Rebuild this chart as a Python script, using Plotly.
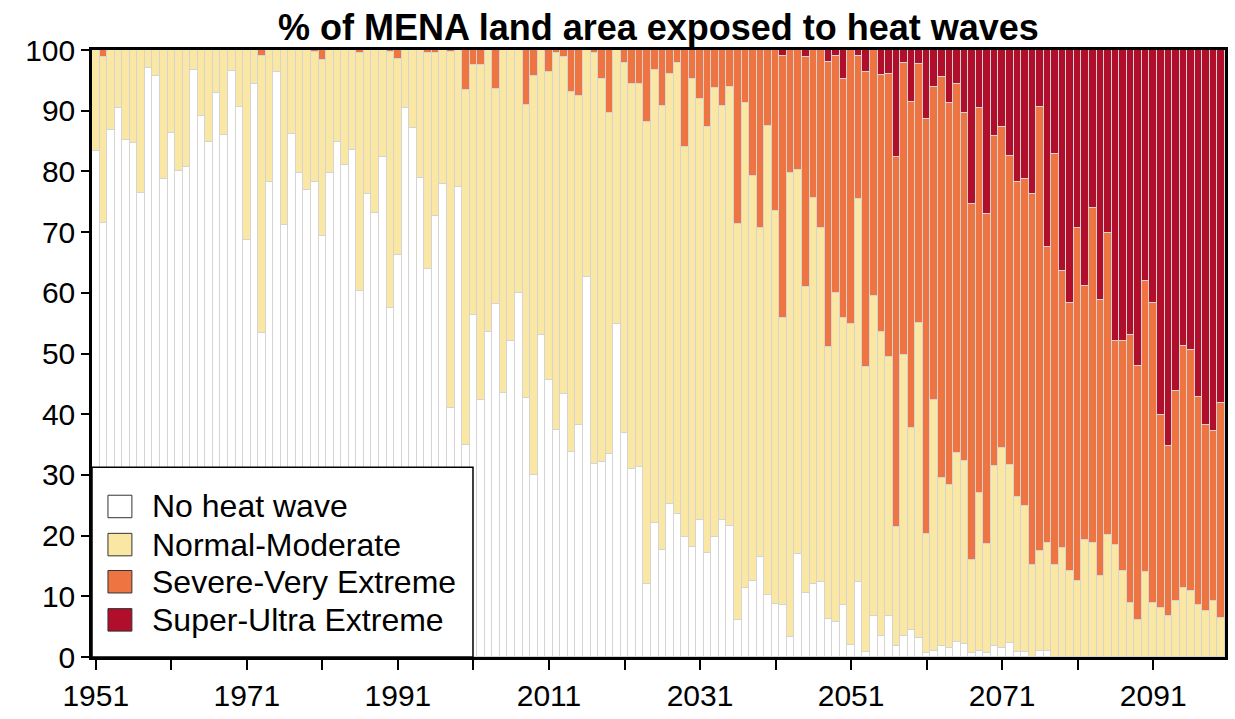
import plotly.graph_objects as go

# Years covered by the record and projections
years = list(range(1951, 2101))

# Share of land area (%) in each heat-wave class, per year
no_heat_wave = [
    83.4, 71.5, 86.9, 90.5, 85.2, 84.7, 76.5, 97.0, 95.7, 78.7,
    86.4, 80.0, 80.7, 96.7, 89.2, 84.8, 92.9, 86.0, 96.6, 90.6,
    68.7, 94.4, 53.4, 78.3, 96.3, 71.1, 86.1, 79.8, 77.0, 78.2,
    69.4, 79.7, 84.9, 81.1, 83.5, 60.3, 76.3, 73.1, 82.3, 57.5,
    66.2, 90.5, 87.1, 78.9, 63.9, 72.7, 78.0, 41.1, 77.4, 34.9,
    56.4, 42.4, 53.6, 58.2, 43.5, 52.0, 60.0, 42.6, 30.0, 53.1,
    45.6, 37.4, 43.4, 33.8, 38.2, 62.6, 31.8, 32.1, 33.4, 54.9,
    36.9, 31.0, 31.3, 12.1, 22.1, 17.7, 25.2, 23.6, 19.7, 18.2,
    22.6, 17.2, 19.8, 22.6, 21.6, 6.1, 11.3, 12.5, 16.5, 10.2,
    8.7, 8.5, 3.3, 17.0, 10.6, 12.1, 12.3, 6.2, 5.8, 8.5,
    2.0, 12.3, 0.8, 6.7, 3.5, 6.7, 1.8, 3.5, 4.5, 3.1,
    0.7, 1.0, 1.8, 1.5, 2.5, 2.2, 0.7, 1.0, 0.7, 1.8,
    1.5, 2.3, 0.9, 0.9, 0.0, 1.0, 1.0, 0.0, 0.0, 0.0,
    0.0, 0.0, 0.0, 0.0, 0.0, 0.0, 0.0, 0.0, 0.0, 0.0,
    0.0, 0.0, 0.0, 0.0, 0.0, 0.0, 0.0, 0.0, 0.0, 0.0,
]
normal_moderate = [
    16.6, 27.3, 13.1, 9.5, 14.8, 15.3, 23.5, 3.0, 4.3, 21.3,
    13.6, 20.0, 19.3, 3.3, 10.8, 15.2, 7.1, 14.0, 3.4, 9.4,
    31.3, 5.6, 45.6, 21.7, 3.7, 28.9, 13.9, 20.2, 23.0, 21.4,
    29.0, 20.3, 15.1, 18.9, 16.5, 39.2, 23.7, 26.9, 17.7, 42.1,
    32.4, 9.5, 12.9, 21.1, 35.6, 26.8, 22.0, 58.5, 22.6, 58.5,
    41.2, 55.2, 46.4, 35.4, 56.5, 48.0, 40.0, 48.4, 65.7, 46.9,
    50.7, 62.1, 55.5, 59.2, 54.3, 37.4, 67.7, 63.2, 56.3, 45.1,
    61.0, 63.4, 63.1, 76.1, 74.6, 73.1, 70.9, 74.3, 64.4, 77.1,
    69.4, 70.1, 74.0, 68.1, 72.3, 65.2, 80.0, 66.8, 54.2, 77.2,
    64.7, 47.4, 76.5, 63.2, 50.3, 63.6, 58.3, 44.9, 54.1, 47.3,
    52.8, 63.2, 46.9, 52.8, 50.1, 42.8, 19.7, 46.3, 33.2, 51.9,
    19.6, 41.3, 27.7, 26.9, 31.1, 30.1, 15.2, 26.1, 17.9, 29.7,
    32.9, 29.3, 25.5, 24.0, 15.1, 16.4, 17.7, 15.2, 17.9, 14.2,
    12.5, 19.3, 18.7, 13.4, 20.1, 18.5, 14.2, 8.9, 6.1, 14.0,
    8.9, 8.0, 6.8, 9.2, 11.3, 10.8, 8.5, 7.6, 9.2, 6.4,
]
severe_very_extreme = [
    0.0, 1.2, 0.0, 0.0, 0.0, 0.0, 0.0, 0.0, 0.0, 0.0,
    0.0, 0.0, 0.0, 0.0, 0.0, 0.0, 0.0, 0.0, 0.0, 0.0,
    0.0, 0.0, 1.0, 0.0, 0.0, 0.0, 0.0, 0.0, 0.0, 0.4,
    1.6, 0.0, 0.0, 0.0, 0.0, 0.5, 0.0, 0.0, 0.0, 0.4,
    1.4, 0.0, 0.0, 0.0, 0.5, 0.5, 0.0, 0.4, 0.0, 6.6,
    2.4, 2.4, 0.0, 6.4, 0.0, 0.0, 0.0, 9.0, 4.3, 0.0,
    3.7, 0.5, 1.1, 7.0, 7.5, 0.0, 0.5, 4.7, 10.3, 0.0,
    2.1, 5.6, 5.6, 11.8, 3.3, 9.2, 3.9, 2.1, 15.9, 4.7,
    8.0, 12.7, 6.2, 9.3, 6.1, 28.7, 8.7, 20.7, 29.3, 12.6,
    26.6, 43.1, 20.2, 19.8, 37.9, 24.3, 29.4, 46.9, 39.1, 39.4,
    45.2, 23.5, 48.6, 40.5, 42.3, 46.6, 60.8, 48.0, 53.8, 42.7,
    68.4, 51.6, 66.0, 62.9, 60.8, 57.3, 58.7, 63.3, 54.4, 54.4,
    52.9, 50.9, 51.8, 53.8, 61.1, 73.2, 48.8, 67.6, 45.7, 44.2,
    58.2, 41.9, 55.3, 45.4, 49.7, 33.5, 37.8, 44.1, 41.9, 48.0,
    49.5, 31.8, 28.0, 34.6, 40.0, 39.7, 34.3, 30.6, 28.0, 35.4,
]
super_ultra_extreme = [
    0.0, 0.0, 0.0, 0.0, 0.0, 0.0, 0.0, 0.0, 0.0, 0.0,
    0.0, 0.0, 0.0, 0.0, 0.0, 0.0, 0.0, 0.0, 0.0, 0.0,
    0.0, 0.0, 0.0, 0.0, 0.0, 0.0, 0.0, 0.0, 0.0, 0.0,
    0.0, 0.0, 0.0, 0.0, 0.0, 0.0, 0.0, 0.0, 0.0, 0.0,
    0.0, 0.0, 0.0, 0.0, 0.0, 0.0, 0.0, 0.0, 0.0, 0.0,
    0.0, 0.0, 0.0, 0.0, 0.0, 0.0, 0.0, 0.0, 0.0, 0.0,
    0.0, 0.0, 0.0, 0.0, 0.0, 0.0, 0.0, 0.0, 0.0, 0.0,
    0.0, 0.0, 0.0, 0.0, 0.0, 0.0, 0.0, 0.0, 0.0, 0.0,
    0.0, 0.0, 0.0, 0.0, 0.0, 0.0, 0.0, 0.0, 0.0, 0.0,
    0.0, 1.0, 0.0, 0.0, 1.2, 0.0, 0.0, 2.0, 1.0, 4.8,
    0.0, 1.0, 3.7, 0.0, 4.1, 3.9, 17.7, 2.2, 8.5, 2.3,
    11.3, 6.1, 4.5, 8.7, 5.6, 10.4, 25.4, 9.6, 27.0, 14.1,
    12.7, 17.5, 21.8, 21.3, 23.8, 9.4, 32.5, 17.2, 36.4, 41.6,
    29.3, 38.8, 26.0, 41.2, 30.2, 48.0, 48.0, 47.0, 52.0, 38.0,
    41.6, 60.2, 65.2, 56.2, 48.7, 49.5, 57.2, 61.8, 62.8, 58.2,
]

series_names = ["No heat wave", "Normal-Moderate", "Severe-Very Extreme", "Super-Ultra Extreme"]
series_values = [no_heat_wave, normal_moderate, severe_very_extreme, super_ultra_extreme]
series_colors = ["#FFFFFF", "#FAE7A4", "#EE7442", "#B10E2B"]

tick_years = list(range(1951, 2101, 10))
tick_labels = [str(y) if (y - 1951) % 20 == 0 else "" for y in tick_years]

FONT = "Liberation Sans, Arial, sans-serif"
PLOT_W, PLOT_H = 1136, 621

fig = go.Figure()
for name, vals, col in zip(series_names, series_values, series_colors):
    fig.add_trace(go.Bar(
        x=years, y=vals, name=name,
        marker=dict(color=col, line=dict(color="#d4d4d4", width=1)),
        showlegend=False,
    ))

# Hand-drawn legend box in the lower-left corner of the plot
shapes = [dict(type="rect", xref="paper", yref="paper",
               x0=0, x1=382 / PLOT_W, y0=0, y1=194 / PLOT_H,
               fillcolor="white", line=dict(color="black", width=1.5), layer="above")]
annotations = []
row_px = [154, 115, 77, 38]          # row centres above the x axis, in pixels
for name, col, yp in zip(series_names, series_colors, row_px):
    yc = yp / PLOT_H
    shapes.append(dict(type="rect", xref="paper", yref="paper",
                       x0=16 / PLOT_W, x1=40 / PLOT_W,
                       y0=yc - 11.5 / PLOT_H, y1=yc + 11.5 / PLOT_H,
                       fillcolor=col, line=dict(color="#333333", width=1), layer="above"))
    annotations.append(dict(xref="paper", yref="paper", x=58 / PLOT_W, y=yc,
                            xanchor="left", yanchor="middle", showarrow=False,
                            text=name, font=dict(family=FONT, size=32, color="black")))

annotations.append(dict(xref="paper", yref="paper", x=0.5, y=1 + 23 / PLOT_H,
                        xanchor="center", yanchor="middle", showarrow=False,
                        text="<b>% of MENA land area exposed to heat waves</b>",
                        font=dict(family=FONT, size=36, color="black")))

fig.update_layout(
    barmode="stack", bargap=0,
    width=1235, height=719,
    margin=dict(l=92, r=7, t=50, b=48),
    paper_bgcolor="white", plot_bgcolor="white",
    shapes=shapes, annotations=annotations,
    font=dict(family=FONT, size=30, color="black"),
)
fig.update_xaxes(
    range=[1950.5, 2100.5], tickvals=tick_years, ticktext=tick_labels,
    ticks="outside", ticklen=10, tickwidth=1.5, tickcolor="black",
    showline=True, linecolor="black", linewidth=2.5, mirror=True,
    showgrid=False, zeroline=False, tickfont=dict(family=FONT, size=30),
)
fig.update_yaxes(
    range=[0, 100], tickvals=list(range(0, 101, 10)),
    ticks="outside", ticklen=8, tickwidth=1.5, tickcolor="black",
    showline=True, linecolor="black", linewidth=2.5, mirror=True,
    showgrid=False, zeroline=False, tickfont=dict(family=FONT, size=30),
)

fig.write_html("out.html")
